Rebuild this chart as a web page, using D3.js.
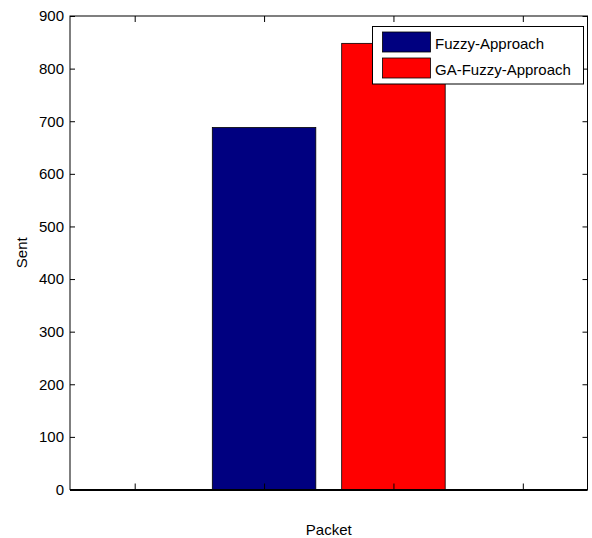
<!DOCTYPE html>
<html>
<head>
<meta charset="utf-8">
<script src="https://cdn.jsdelivr.net/npm/d3@7"></script>
<style>
  html, body { margin: 0; padding: 0; background: #fff; }
  svg text { font-family: "Liberation Sans", Arial, sans-serif; }
</style>
</head>
<body>
<svg id="chart" width="592" height="538"></svg>
<script>
const categories = ["Fuzzy-Approach", "GA-Fuzzy-Approach"];
const positions = [1, 2];
const values = [688, 848];
const colors = ["#000080", "#ff0000"];
const yTicks = [0, 100, 200, 300, 400, 500, 600, 700, 800, 900];
const xTicks = [0, 1, 2, 3];
const xLabel = "Packet";
const yLabel = "Sent";

(function () {
const svg = d3.select("#chart");
const mLeft = 70, mRight = 587.5, mTop = 16, mBottom = 489.5;

const x = d3.scaleLinear().domain([-0.5, 3.5]).range([mLeft, mRight]);
const y = d3.scaleLinear().domain([0, 900]).range([mBottom, mTop]);
const barW = x(0.8) - x(0);

// bars
svg.selectAll("rect.bar").data(values).enter().append("rect")
  .attr("class", "bar")
  .attr("x", (d, i) => x(positions[i]) - barW / 2)
  .attr("y", d => y(d))
  .attr("width", barW)
  .attr("height", d => y(0) - y(d))
  .attr("fill", (d, i) => colors[i])
  .attr("stroke", "#000")
  .attr("stroke-width", 0.8);

function styleAxis(g) {
  g.select(".domain").remove();
  g.selectAll(".tick line").attr("stroke", "#000").attr("stroke-width", 1);
  g.selectAll(".tick text").attr("fill", "#000").attr("font-size", 15)
    .attr("font-family", "Liberation Sans, Arial, sans-serif");
}

svg.append("g").attr("transform", `translate(${mLeft},0)`)
  .call(d3.axisLeft(y).tickValues(yTicks).tickSize(-5).tickPadding(6))
  .call(styleAxis);
svg.append("g").attr("transform", `translate(${mRight},0)`)
  .call(d3.axisRight(y).tickValues(yTicks).tickSize(-5).tickFormat(""))
  .call(styleAxis);
svg.append("g").attr("transform", `translate(0,${mBottom})`)
  .call(d3.axisBottom(x).tickValues(xTicks).tickSize(-6).tickFormat(""))
  .call(styleAxis);
svg.append("g").attr("transform", `translate(0,${mTop})`)
  .call(d3.axisTop(x).tickValues(xTicks).tickSize(-6).tickFormat(""))
  .call(styleAxis);

// axes box
svg.append("rect")
  .attr("x", mLeft).attr("y", mTop)
  .attr("width", mRight - mLeft).attr("height", mBottom - mTop)
  .attr("fill", "none").attr("stroke", "#000").attr("stroke-width", 1);
// bar baseline (thicker bottom edge)
svg.append("line")
  .attr("x1", mLeft).attr("x2", mRight)
  .attr("y1", y(0) + 1).attr("y2", y(0) + 1)
  .attr("stroke", "#000").attr("stroke-width", 1);

// axis labels
svg.append("text")
  .attr("x", (mLeft + mRight) / 2).attr("y", 535)
  .attr("text-anchor", "middle").attr("font-size", 15).attr("fill", "#000")
  .text(xLabel);
svg.append("text")
  .attr("transform", `translate(27,${(mTop + mBottom) / 2}) rotate(-90)`)
  .attr("text-anchor", "middle").attr("font-size", 15).attr("fill", "#000")
  .text(yLabel);

// legend
const lg = svg.append("g");
lg.append("rect")
  .attr("x", 372.5).attr("y", 26.5).attr("width", 211).attr("height", 57.5)
  .attr("fill", "#fff").attr("stroke", "#000").attr("stroke-width", 1);
categories.forEach((c, i) => {
  const yy = 32 + i * 26;
  lg.append("rect")
    .attr("x", 382.5).attr("y", yy).attr("width", 48).attr("height", 20)
    .attr("fill", colors[i]).attr("stroke", "#000").attr("stroke-width", 0.8);
  lg.append("text")
    .attr("x", 435).attr("y", yy + 16.5)
    .attr("font-size", 15).attr("fill", "#000")
    .text(c);
});
})();
</script>
</body>
</html>
